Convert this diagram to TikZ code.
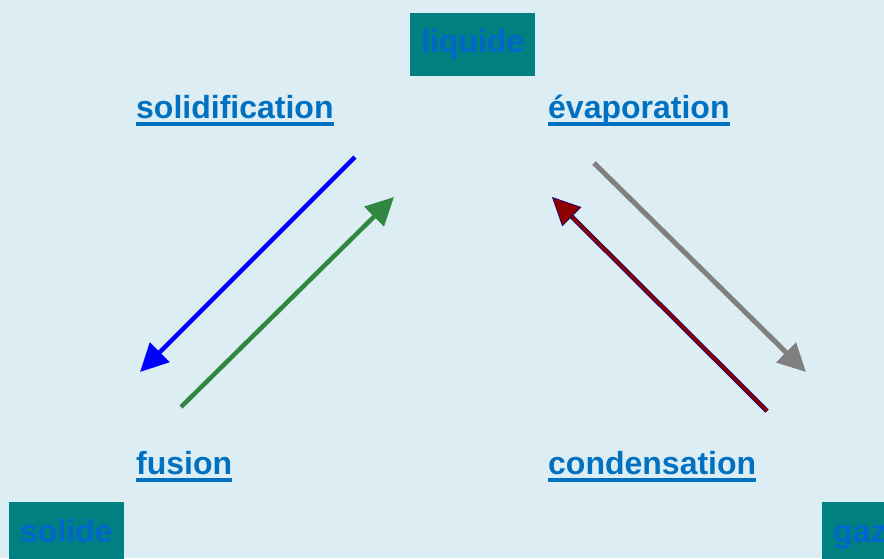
\documentclass[tikz,border=0pt]{standalone}
\usepackage{fontspec}
\setmainfont{Liberation Sans}
\usetikzlibrary{arrows.meta}
\definecolor{bg}{RGB}{220,238,244}
\definecolor{tealbox}{RGB}{0,128,128}
\definecolor{txtblue}{RGB}{0,112,192}
\definecolor{boxtxt}{RGB}{0,102,204}
\definecolor{grn}{RGB}{48,135,64}
\definecolor{maroondark}{RGB}{140,0,0}
\definecolor{navydark}{RGB}{0,0,140}
\definecolor{gry}{RGB}{128,128,128}
\begin{document}
\begin{tikzpicture}[x=1pt,y=-1pt,
  box/.style={fill=tealbox, text=boxtxt, font=\fontsize{32}{38}\selectfont\bfseries,
    inner xsep=11pt, inner ysep=0pt, text height=23pt, text depth=7pt},
  lbl/.style={text=txtblue, font=\fontsize{32}{38}\selectfont\bfseries,
    inner sep=0pt, anchor=base west},
  uline/.style={fill=txtblue},
  arr/.style={line width=4.5pt, -{Triangle[length=28pt,width=27pt]}}]
\fill[bg] (0,0) rectangle (884,558);
\useasboundingbox (0,0) rectangle (884,558);
\clip (0,0) rectangle (884,558);

% state boxes
\node[box, minimum height=63pt, anchor=west] (liquide) at (410,44.5) {liquide};
\node[box, minimum height=64pt, anchor=west] (solide) at (9,534) {solide};
\node[box, minimum height=64pt, anchor=west] (gaz) at (822,534) {gaz};

% labels
\node[lbl] (solid) at (136,118) {solidification};
\node[lbl] (evap) at (548,118) {évaporation};
\node[lbl] (fus) at (136,474) {fusion};
\node[lbl] (cond) at (548,474) {condensation};
\foreach \n in {solid,evap,fus,cond}{
  \fill[uline] ([yshift=-4.3pt]\n.base west) rectangle ([yshift=-7.6pt]\n.base east);
}

% arrows
\coordinate (b1) at (355,157); \coordinate (b2) at (140,372);
\coordinate (g1) at (181,407); \coordinate (g2) at (394,197);
\coordinate (y1) at (594,163); \coordinate (y2) at (806,372);
\coordinate (r1) at (767,411); \coordinate (r2) at (552,197);

\draw[arr, blue] (b1) -- (b2);
\draw[arr, grn] (g1) -- (g2);
\draw[arr, gry, line width=5pt] (y1) -- (y2);
\draw[navydark, line width=4.6pt, shorten >=20pt] (r1) -- (r2);
\draw[maroondark, line width=3.2pt,
  -{Triangle[length=28pt,width=27pt,color=navydark,fill=maroondark,line width=0.6pt]}] (r1) -- (r2);
\end{tikzpicture}
\end{document}
